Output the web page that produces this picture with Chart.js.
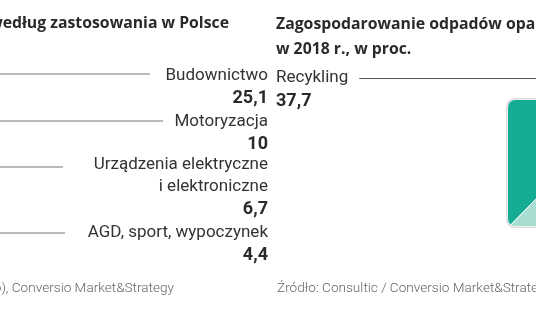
<!DOCTYPE html>
<html lang="pl">
<head>
<meta charset="utf-8">
<script src="https://cdn.jsdelivr.net/npm/chart.js@4.4.1/dist/chart.umd.min.js"></script>
<style>
html, body { margin: 0; padding: 0; background: #fff; overflow: hidden; width: 536px; height: 332px; }
#board { position: absolute; left: 0; top: 0; }
</style>
</head>
<body>
<canvas id="board" width="700" height="332"></canvas>
<script>
// Zapotrzebowanie na tworzywa według zastosowania, proc. ("|" = nowa linia)
const useCategories = ['Budownictwo', 'Motoryzacja', 'Urządzenia elektryczne|i elektroniczne', 'AGD, sport, wypoczynek'];
const useValues = [25.1, 10, 6.7, 4.4];

// Zagospodarowanie odpadów opakowaniowych w 2018 r., proc.
const wasteCategories = ['Składowanie', 'Odzysk energii', 'Recykling'];
const wasteValues = [33.1, 29.2, 37.7];
const wasteLabelled = ['Recykling'];

const titleLeft = 'Zapotrzebowanie na tworzywa sztuczne według zastosowania w Polsce';
const titleRight = ['Zagospodarowanie odpadów opakowaniowych z tworzyw sztucznych', 'w 2018 r., w proc.'];
const sourceLeft = 'Źródło: PlasticsEurope (dane za 2018 r., PEMRG – biuro), Conversio Market&Strategy';
const sourceRight = 'Źródło: Consultic / Conversio Market&Strategy';

// --- wygląd ---
const wasteColors = ['#d4ece6', '#a8ddd2', '#15ac94'];
const FONT = 'Roboto, "Liberation Sans", sans-serif';
const TITLE_FONT = '"Open Sans", Roboto, sans-serif';
const INK = '#2a2a2a';
const TILE = 126, TILE_R = 7;
const LEFT_COL_RIGHT = 268;
const nameBaseline = [80, 126, 169, 237];
const leaderY = [74, 121, 167, 233];
const leaderEnd = [150, 163, 63, 65];
const NAME_STEP = 22, VALUE_GAP = 23;

const fmt = v => String(v).replace('.', ',');

function condensedText(ctx, text, x, y, align, sx) {
  ctx.save();
  ctx.translate(x, y);
  ctx.scale(sx, 1);
  ctx.textAlign = align;
  ctx.fillText(text, 0, 0);
  ctx.restore();
}

// Kafel: wycinek kołowy przycięty do zaokrąglonego kwadratu
const tileClip = {
  id: 'tileClip',
  beforeDatasetsDraw(chart) {
    const a = chart.getDatasetMeta(0).data[0];
    const ctx = chart.ctx;
    ctx.save();
    ctx.beginPath();
    ctx.roundRect(a.x - TILE / 2, a.y - TILE / 2, TILE, TILE, TILE_R);
    ctx.clip();
  },
  afterDatasetsDraw(chart) {
    const ctx = chart.ctx;
    ctx.restore();
    const a = chart.getDatasetMeta(0).data[0];
    ctx.save();
    ctx.strokeStyle = '#dddddd';
    ctx.lineWidth = 1.5;
    ctx.beginPath();
    ctx.roundRect(a.x - TILE / 2 - 1.2, a.y - TILE / 2 - 1.2, TILE + 2.4, TILE + 2.4, TILE_R + 1);
    ctx.stroke();
    ctx.restore();
  }
};

// Tytuły, opisy, linie odniesienia i źródła
const annotations = {
  id: 'annotations',
  afterDraw(chart) {
    const ctx = chart.ctx;
    ctx.save();
    ctx.textBaseline = 'alphabetic';

    // tytuły
    ctx.fillStyle = INK;
    ctx.font = 'bold 15.8px ' + TITLE_FONT;
    ctx.textAlign = 'right';
    ctx.fillText(titleLeft, 229, 28);
    ctx.textAlign = 'left';
    ctx.fillText(titleRight[0], 276, 29);
    ctx.fillText(titleRight[1], 276, 54);

    // lewa kolumna: zastosowania
    useCategories.forEach((cat, i) => {
      ctx.strokeStyle = '#a3a3a3';
      ctx.lineWidth = 1.6;
      ctx.beginPath();
      ctx.moveTo(0, leaderY[i]);
      ctx.lineTo(leaderEnd[i], leaderY[i]);
      ctx.stroke();

      const lines = cat.split('|');
      ctx.fillStyle = '#333';
      ctx.font = '17px ' + FONT;
      ctx.textAlign = 'right';
      lines.forEach((ln, k) => ctx.fillText(ln, LEFT_COL_RIGHT, nameBaseline[i] + k * NAME_STEP));
      const vy = nameBaseline[i] + (lines.length - 1) * NAME_STEP + VALUE_GAP;
      ctx.fillStyle = INK;
      ctx.font = 'bold 19px ' + FONT;
      condensedText(ctx, fmt(useValues[i]), LEFT_COL_RIGHT, vy, 'right', 0.95);
    });

    // prawa część: opis recyklingu
    wasteLabelled.forEach(name => {
      const idx = wasteCategories.indexOf(name);
      ctx.fillStyle = '#333';
      ctx.font = '17px ' + FONT;
      ctx.textAlign = 'left';
      ctx.fillText(name, 276, 82);
      const w = ctx.measureText(name).width;
      ctx.strokeStyle = '#555';
      ctx.lineWidth = 1;
      ctx.beginPath();
      ctx.moveTo(276 + w + 11, 78.5);
      ctx.lineTo(chart.width, 78.5);
      ctx.stroke();
      ctx.fillStyle = INK;
      ctx.font = 'bold 19px ' + FONT;
      condensedText(ctx, fmt(wasteValues[idx]), 276, 106, 'left', 0.95);
    });

    // źródła
    ctx.fillStyle = '#666';
    ctx.font = '300 13.6px ' + FONT;
    ctx.textAlign = 'right';
    ctx.fillText(sourceLeft, 174, 292);
    ctx.textAlign = 'left';
    ctx.fillText(sourceRight, 277, 292);
    ctx.restore();
  }
};

function build() {
  new Chart(document.getElementById('board'), {
    type: 'pie',
    data: {
      labels: wasteCategories,
      datasets: [{
        data: wasteValues,
        backgroundColor: wasteColors,
        borderColor: '#ffffff',
        borderWidth: 1
      }]
    },
    options: {
      responsive: false,
      animation: false,
      devicePixelRatio: 1,
      layout: { padding: { left: 442, right: 0, top: 0, bottom: 6 } },
      plugins: { legend: { display: false }, tooltip: { enabled: false } }
    },
    plugins: [tileClip, annotations]
  });
}

if (document.fonts && document.fonts.load) {
  Promise.all([
    document.fonts.load('17px Roboto'),
    document.fonts.load('bold 16px Roboto'),
    document.fonts.load('bold 16px "Open Sans"'),
    document.fonts.load('300 13px Roboto')
  ]).then(build, build);
} else {
  build();
}
</script>
</body>
</html>
